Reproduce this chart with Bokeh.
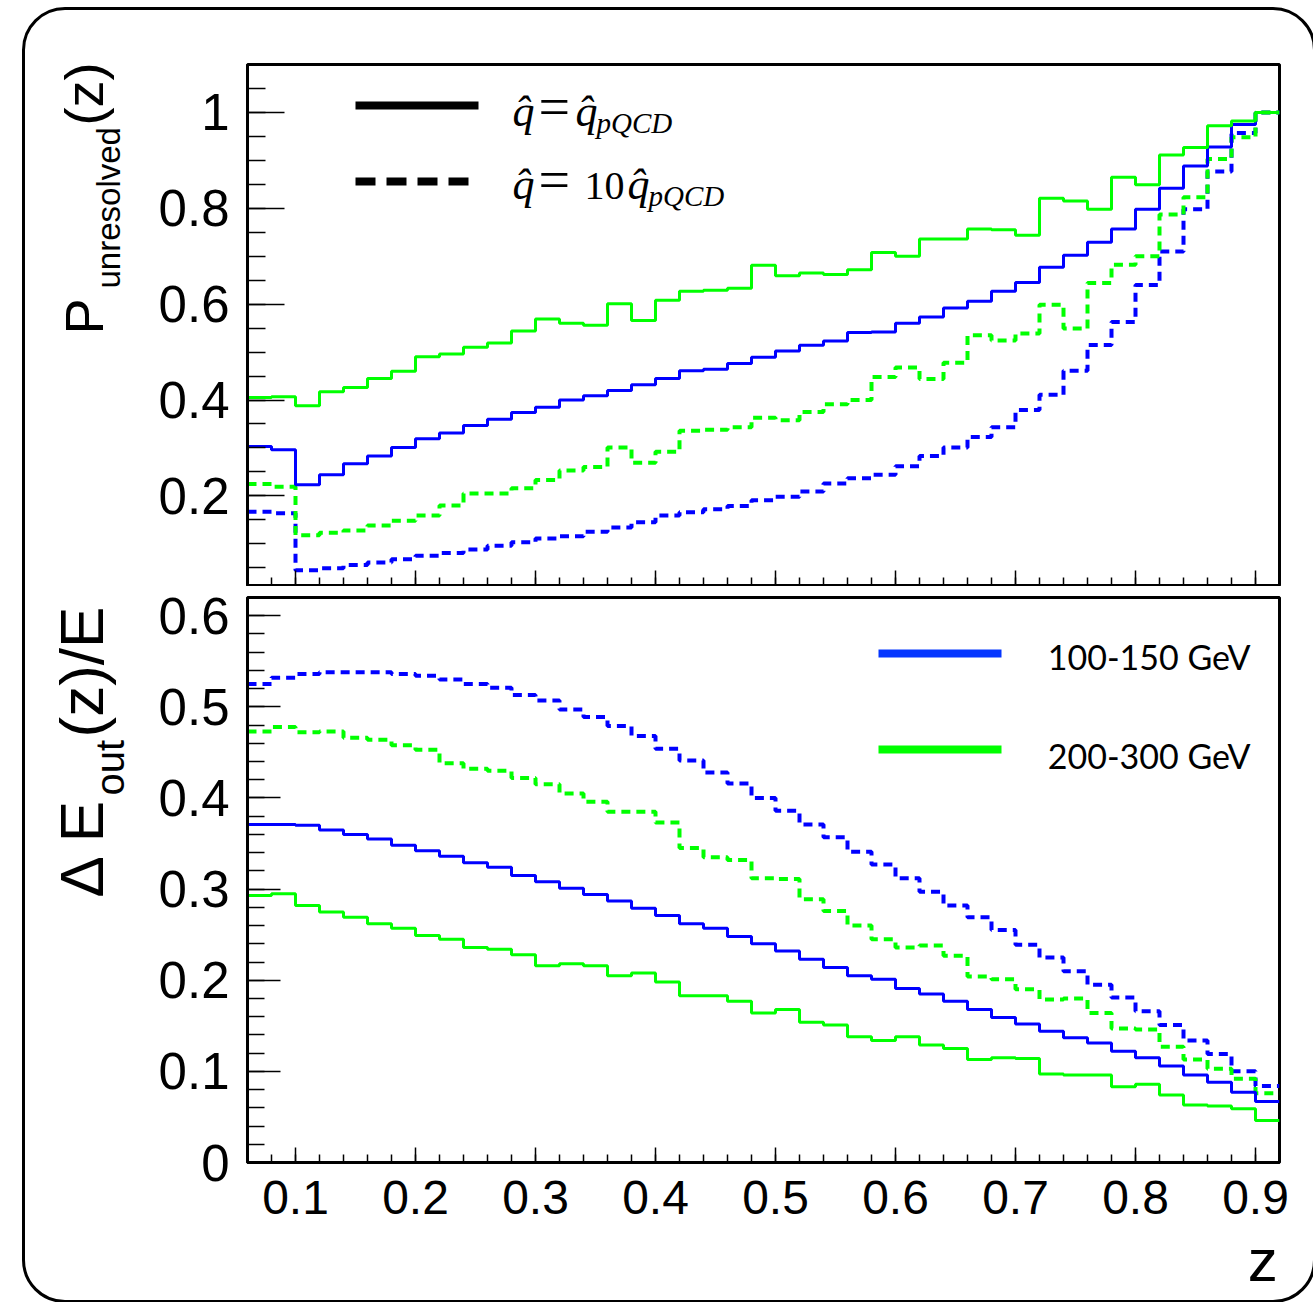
import numpy as np
from math import pi
from bokeh.plotting import figure
from bokeh.layouts import column, row
from bokeh.models import Range1d, FixedTicker, Label, CustomLabelingPolicy
from bokeh.embed import file_html
from bokeh.resources import INLINE

# ---------------- data ----------------
# bin edges of the z histograms (bins of width 0.02 from 0.06 to 0.92)
z_edges = np.round(np.linspace(0.06, 0.92, 44), 2)

# top panel: P_unresolved(z)
top_blue_pqcd = [0.303, 0.296, 0.223, 0.244, 0.267, 0.283, 0.301, 0.319, 0.331, 0.347, 0.360, 0.374, 0.385, 0.400, 0.409,
                 0.420, 0.432, 0.445, 0.461, 0.464, 0.476, 0.489, 0.502, 0.514, 0.523, 0.541, 0.542, 0.560, 0.573,
                 0.592, 0.606, 0.627, 0.645, 0.677, 0.702, 0.729, 0.757, 0.798, 0.842, 0.888, 0.928, 0.975, 1.000]
top_green_pqcd = [0.405, 0.407, 0.388, 0.417, 0.426, 0.445, 0.460, 0.490, 0.496, 0.510, 0.519, 0.544, 0.569, 0.560, 0.556,
                  0.601, 0.566, 0.608, 0.627, 0.629, 0.633, 0.681, 0.659, 0.665, 0.662, 0.672, 0.708, 0.700, 0.736,
                  0.736, 0.757, 0.755, 0.744, 0.821, 0.815, 0.798, 0.865, 0.849, 0.911, 0.927, 0.972, 0.982, 1.000]
top_blue_10 = [0.167, 0.164, 0.045, 0.049, 0.056, 0.061, 0.068, 0.075, 0.081, 0.088, 0.096, 0.103, 0.111, 0.116, 0.125,
               0.134, 0.145, 0.159, 0.166, 0.172, 0.179, 0.191, 0.198, 0.209, 0.226, 0.237, 0.244, 0.262, 0.283,
               0.301, 0.323, 0.343, 0.379, 0.411, 0.461, 0.515, 0.563, 0.640, 0.710, 0.798, 0.877, 0.957, 1.000]
top_green_10 = [0.225, 0.219, 0.118, 0.123, 0.128, 0.138, 0.148, 0.159, 0.180, 0.205, 0.205, 0.216, 0.233, 0.253, 0.260,
                0.301, 0.269, 0.292, 0.336, 0.338, 0.343, 0.363, 0.358, 0.375, 0.391, 0.400, 0.448, 0.468, 0.444,
                0.478, 0.535, 0.524, 0.539, 0.599, 0.549, 0.644, 0.682, 0.700, 0.787, 0.823, 0.903, 0.948, 1.000]

# bottom panel: Delta E_out(z)/E
bot_blue_pqcd = [0.371, 0.371, 0.370, 0.365, 0.360, 0.355, 0.348, 0.342, 0.336, 0.329, 0.324, 0.315, 0.308, 0.301, 0.294,
                 0.287, 0.279, 0.271, 0.262, 0.257, 0.248, 0.240, 0.232, 0.223, 0.214, 0.205, 0.201, 0.191, 0.185,
                 0.177, 0.168, 0.159, 0.152, 0.144, 0.137, 0.131, 0.122, 0.115, 0.106, 0.096, 0.088, 0.077, 0.067]
bot_green_pqcd = [0.293, 0.295, 0.282, 0.275, 0.269, 0.262, 0.257, 0.249, 0.245, 0.236, 0.234, 0.228, 0.216, 0.218, 0.216,
                  0.205, 0.208, 0.198, 0.183, 0.183, 0.177, 0.164, 0.168, 0.154, 0.151, 0.138, 0.134, 0.138, 0.129,
                  0.125, 0.113, 0.115, 0.114, 0.097, 0.096, 0.096, 0.083, 0.086, 0.074, 0.063, 0.062, 0.059, 0.046]
bot_blue_10 = [0.525, 0.532, 0.536, 0.538, 0.538, 0.538, 0.536, 0.534, 0.530, 0.525, 0.521, 0.513, 0.507, 0.497, 0.489,
               0.479, 0.468, 0.454, 0.441, 0.428, 0.416, 0.400, 0.386, 0.371, 0.357, 0.341, 0.327, 0.312, 0.297,
               0.282, 0.269, 0.255, 0.239, 0.225, 0.210, 0.195, 0.181, 0.166, 0.151, 0.134, 0.119, 0.100, 0.084]
bot_green_10 = [0.473, 0.478, 0.472, 0.473, 0.466, 0.464, 0.458, 0.453, 0.438, 0.432, 0.430, 0.422, 0.415, 0.405, 0.396,
                0.385, 0.385, 0.373, 0.345, 0.335, 0.332, 0.312, 0.311, 0.289, 0.276, 0.260, 0.245, 0.236, 0.238,
                0.227, 0.204, 0.201, 0.190, 0.179, 0.180, 0.164, 0.147, 0.146, 0.127, 0.113, 0.103, 0.092, 0.076]

# ticks
x_major = [0.1, 0.2, 0.3, 0.4, 0.5, 0.6, 0.7, 0.8, 0.9]
x_labels = ["0.1", "0.2", "0.3", "0.4", "0.5", "0.6", "0.7", "0.8", "0.9"]
x_minor = list(np.round(np.arange(0.06, 0.9201, 0.02), 2))
top_y_major = [0.2, 0.4, 0.6, 0.8, 1.0]
top_y_labels = ["0.2", "0.4", "0.6", "0.8", "1"]
top_y_minor = list(np.round(np.arange(0.05, 1.0801, 0.05), 2))
bot_y_major = [0.0, 0.1, 0.2, 0.3, 0.4, 0.5, 0.6]
bot_y_labels = ["0", "0.1", "0.2", "0.3", "0.4", "0.5", "0.6"]
bot_y_minor = list(np.round(np.arange(0.0, 0.6201, 0.02), 2))

legend_e = ["100-150 GeV", "200-300 GeV"]

BLUE = "#0000ff"
GREEN = "#00ff00"
DASH = "9 6"

# ---------------- geometry (page pixels) ----------------
HX, HY = 25, 10          # page position of the layout host
TOTAL_W, TOTAL_H = 1288, 1290
LW = 115                 # width of the strip that carries the y titles
RW = TOTAL_W - LW        # width of the plot column
CX = HX + LW             # page x where the plot column starts
X_RANGE = (0.06, 0.92)
TOP_RANGE = (0.013, 1.10)
BOT_RANGE = (0.0, 0.62)
FL, FR = 247, 1279       # frame left/right
T1, B1 = 64, 585         # top frame
T2, B2 = 597, 1162       # bottom frame
P1_END = 586
P2_END = HY + TOTAL_H
BASE = 0.35              # baseline correction (fraction of font size)


def px_x(px):
    return X_RANGE[0] + (px - FL) * (X_RANGE[1] - X_RANGE[0]) / (FR - FL)


def px_y1(py):
    return TOP_RANGE[1] - (py - T1) * (TOP_RANGE[1] - TOP_RANGE[0]) / (B1 - T1)


def px_y2(py):
    return BOT_RANGE[1] - (py - T2) * (BOT_RANGE[1] - BOT_RANGE[0]) / (B2 - T2)


def make_fig(height, yr, top, bottom):
    p = figure(width=RW, height=height, x_range=Range1d(*X_RANGE), y_range=Range1d(*yr),
               min_border_left=FL - CX, min_border_right=HX + TOTAL_W - FR,
               min_border_top=top, min_border_bottom=bottom,
               output_backend="svg", toolbar_location=None, title=None)
    p.xgrid.visible = False
    p.ygrid.visible = False
    p.outline_line_color = "black"
    p.outline_line_width = 3
    p.background_fill_color = None
    p.border_fill_color = None
    return p


def make_strip(width, height, xr, yr):
    s = figure(width=width, height=height, x_range=Range1d(*xr), y_range=Range1d(*yr),
               x_axis_location=None, y_axis_location=None, min_border=0,
               output_backend="svg", toolbar_location=None, title=None)
    s.xgrid.visible = False
    s.ygrid.visible = False
    s.outline_line_color = None
    s.background_fill_color = None
    s.border_fill_color = None
    return s


def style_axis(ax, ticks, minor, labels, tin, min_in, size, standoff):
    ax.ticker = FixedTicker(ticks=ticks, minor_ticks=minor)
    ax.major_tick_in = tin
    ax.major_tick_out = 0
    ax.minor_tick_in = min_in
    ax.minor_tick_out = 0
    ax.major_tick_line_width = 1.5
    ax.minor_tick_line_width = 1.5
    ax.major_tick_line_color = "black"
    ax.minor_tick_line_color = "black"
    ax.axis_line_width = 3
    ax.axis_line_color = "black"
    ax.major_label_text_font = "Liberation Sans"
    ax.major_label_text_font_size = size
    ax.major_label_text_color = "black"
    ax.major_label_standoff = standoff
    if labels is not None:
        ax.major_label_overrides = dict(zip(ticks, labels))


def lab(fig, x, y, text, size, font="Liberation Sans", style="normal", align="left", angle=0.0):
    fig.add_layout(Label(x=x, y=y, text=text, text_font=font, text_font_style=style,
                         text_font_size=f"{size}px", text_color="black", text_align=align,
                         text_baseline="alphabetic", angle=angle))


# ---------------- top panel ----------------
p1 = make_fig(P1_END - HY, TOP_RANGE, T1 - HY, P1_END - B1)
style_axis(p1.xaxis[0], x_major, x_minor, None, 15, 8, "0px", 0)
p1.xaxis[0].major_label_policy = CustomLabelingPolicy(code="""
try { for (let i = 0; i < indices.size; i++) { indices.unset(i) } } catch (e) {}
return indices
""")
style_axis(p1.yaxis[0], top_y_major, top_y_minor, top_y_labels, 37, 18, "51px", 18)

for vals, col, dash, lw in [(top_blue_10, BLUE, DASH, 4), (top_green_10, GREEN, DASH, 4),
                            (top_blue_pqcd, BLUE, "solid", 3), (top_green_pqcd, GREEN, "solid", 3)]:
    p1.step(x=z_edges, y=list(vals) + [vals[-1]], mode="after",
            line_color=col, line_width=lw, line_dash=dash)

# legend (line styles)
p1.line(x=[px_x(355), px_x(478)], y=[px_y1(105)] * 2, line_color="black", line_width=8)
p1.line(x=[px_x(355), px_x(468)], y=[px_y1(181)] * 2, line_color="black", line_width=8, line_dash="20 11")
for r, base in [(0, 126), (1, 199)]:
    lab(p1, px_x(512), px_y1(base - BASE * 44), "q\u0302", 44, "Liberation Serif", "italic")
    lab(p1, px_x(538), px_y1(base - BASE * 56), "=", 56, "Liberation Serif")
    xq = 575
    if r == 1:
        lab(p1, px_x(584), px_y1(base - BASE * 40), "10", 40, "Liberation Serif")
        xq = 627
    lab(p1, px_x(xq), px_y1(base - BASE * 44), "q\u0302", 44, "Liberation Serif", "italic")
    lab(p1, px_x(xq + 21), px_y1(base + 7 - BASE * 29), "pQCD", 29, "Liberation Serif", "italic")

# ---------------- bottom panel ----------------
p2 = make_fig(P2_END - P1_END, BOT_RANGE, T2 - P1_END, P2_END - B2)
style_axis(p2.xaxis[0], x_major, x_minor, x_labels, 15, 8, "48px", 18)
style_axis(p2.yaxis[0], bot_y_major, bot_y_minor, bot_y_labels, 33, 17, "51px", 18)

for vals, col, dash, lw in [(bot_blue_10, BLUE, DASH, 4), (bot_green_10, GREEN, DASH, 4),
                            (bot_blue_pqcd, BLUE, "solid", 3), (bot_green_pqcd, GREEN, "solid", 3)]:
    p2.step(x=z_edges, y=list(vals) + [vals[-1]], mode="after",
            line_color=col, line_width=lw, line_dash=dash)

# legend (energy bins)
p2.line(x=[px_x(878), px_x(1001)], y=[px_y2(653)] * 2, line_color="#0536ff", line_width=8)
p2.line(x=[px_x(878), px_x(1001)], y=[px_y2(749)] * 2, line_color=GREEN, line_width=8)
for txt, base in zip(legend_e, [668, 767]):
    lab(p2, px_x(1250), px_y2(base - BASE * 34), txt, 34, "Lato", align="right")

# x title
ax = p2.xaxis[0]
ax.axis_label = "z\u00a0\u00a0"
ax.axis_label_align = "end"
ax.axis_label_text_font = "Liberation Sans"
ax.axis_label_text_font_style = "normal"
ax.axis_label_text_font_size = "60px"
ax.axis_label_text_color = "black"
ax.axis_label_standoff = 10

# ---------------- y titles strip (page-pixel coordinates) ----------------
ys = make_strip(LW, TOTAL_H, (HX, CX), (HY + TOTAL_H, HY))
lab(ys, 102 - BASE * 54, 334, "P", 54, angle=pi / 2)
lab(ys, 120 - BASE * 33, 288, "unresolved", 33, angle=pi / 2)
lab(ys, 102 - BASE * 54, 125, "(z)", 54, angle=pi / 2)
lab(ys, 103 - BASE * 62, 897, "\u0394 E", 62, angle=pi / 2)
lab(ys, 123 - BASE * 40, 795, "out", 40, angle=pi / 2)
lab(ys, 103 - BASE * 62, 737, "(z)/E", 62, angle=pi / 2)

layout = row(ys, column(p1, p2, spacing=0), spacing=0, margin=(HY, 0, 0, HX),
             styles={"outline": "3px solid black", "border-radius": "40px"})

open("out.html", "w").write(file_html(layout, INLINE))
